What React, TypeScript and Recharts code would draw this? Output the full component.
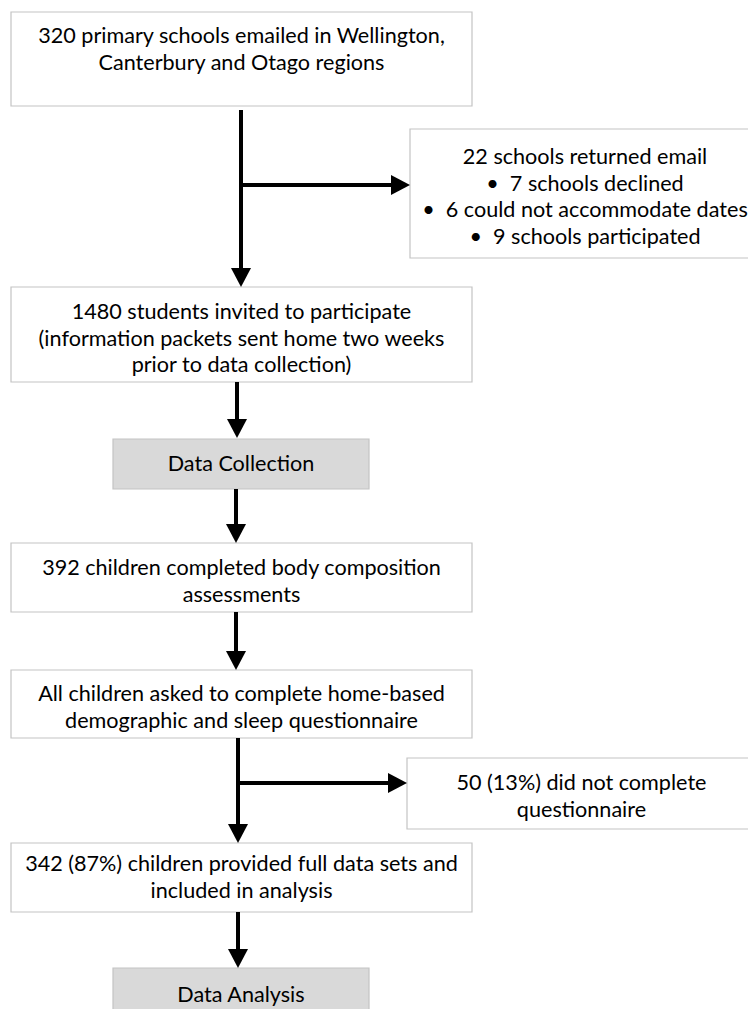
import { ScatterChart, Scatter, XAxis, YAxis, ReferenceArea, ReferenceLine } from 'recharts';

// text of every box, top to bottom
const boxLines: string[][] = [
  ['320 primary schools emailed in Wellington,', 'Canterbury and Otago regions'],
  ['22 schools returned email', '•  7 schools declined', '•  6 could not accommodate dates', '•  9 schools participated'],
  ['1480 students invited to participate', '(information packets sent home two weeks', 'prior to data collection)'],
  ['Data Collection'],
  ['392 children completed body composition', 'assessments'],
  ['All children asked to complete home-based', 'demographic and sleep questionnaire'],
  ['50 (13%) did not complete', 'questionnaire'],
  ['342 (87%) children provided full data sets and', 'included in analysis'],
  ['Data Analysis'],
];

// box geometry (page pixels), one per box above
const boxRects = [
  { x1: 11, x2: 472, y1: 12, y2: 106, base: 43 },
  { x1: 410, x2: 762, y1: 129, y2: 258, base: 164 },
  { x1: 11, x2: 472, y1: 287, y2: 382, base: 319 },
  { x1: 113, x2: 369, y1: 439, y2: 489, base: 471 },
  { x1: 11, x2: 472, y1: 543, y2: 612, base: 575 },
  { x1: 11, x2: 472, y1: 670, y2: 738, base: 701 },
  { x1: 407, x2: 756, y1: 758, y2: 829, base: 790 },
  { x1: 11, x2: 472, y1: 843, y2: 912, base: 871 },
  { x1: 113, x2: 369, y1: 968, y2: 1030, base: 1002 },
];
const shaded = [3, 8];

// arrows: start point and tip
const arrows = [
  { x1: 241, y1: 110, x2: 241, y2: 287, dir: 'down' },
  { x1: 241, y1: 185, x2: 410, y2: 185, dir: 'right' },
  { x1: 237, y1: 382, x2: 237, y2: 438, dir: 'down' },
  { x1: 236, y1: 489, x2: 236, y2: 543, dir: 'down' },
  { x1: 236, y1: 612, x2: 236, y2: 670, dir: 'down' },
  { x1: 238, y1: 738, x2: 238, y2: 843, dir: 'down' },
  { x1: 238, y1: 783, x2: 407, y2: 783, dir: 'right' },
  { x1: 238, y1: 912, x2: 238, y2: 968, dir: 'down' },
];

const W = 748;
const H = 1009;
const LINE = 26.7;
const FONT = 'Lato, "Open Sans", sans-serif';

const labels = boxRects.map((r, i) => ({ x: (r.x1 + Math.min(r.x2, 760)) / 2, y: r.base, lines: boxLines[i] }));
const tips = arrows.map((a) => ({ x: a.x2, y: a.y2, dir: a.dir }));

const ArrowHead = (props: any) => {
  const { cx, cy, payload } = props;
  const pts =
    payload.dir === 'down'
      ? `${cx - 10},${cy - 19} ${cx + 10},${cy - 19} ${cx},${cy}`
      : `${cx - 19},${cy - 10} ${cx - 19},${cy + 10} ${cx},${cy}`;
  return <polygon points={pts} fill="#000" />;
};

const BoxText = (props: any) => {
  const { cx, cy, payload } = props;
  return (
    <text x={cx} y={cy} textAnchor="middle" fontFamily={FONT} fontSize={21.6} fill="#000">
      {payload.lines.map((l: string, i: number) => (
        <tspan key={i} x={cx} y={cy + i * LINE} style={{ whiteSpace: 'pre' }}>
          {l}
        </tspan>
      ))}
    </text>
  );
};

export default function App() {
  return (
    <div style={{ position: 'absolute', left: 0, top: 0, width: W, height: H, background: '#fff' }}>
      <ScatterChart width={W} height={H} margin={{ top: 0, right: 0, bottom: 0, left: 0 }}>
        <XAxis type="number" dataKey="x" domain={[0, W]} hide allowDataOverflow />
        <YAxis type="number" dataKey="y" domain={[0, H]} reversed hide allowDataOverflow />
        {boxRects.map((r, i) => (
          <ReferenceArea
            key={`b${i}`}
            x1={r.x1}
            x2={r.x2}
            y1={r.y1}
            y2={r.y2}
            ifOverflow="visible"
            fill={shaded.includes(i) ? '#d9d9d9' : '#ffffff'}
            fillOpacity={1}
            stroke="#c4c4c4"
            strokeWidth={1.2}
          />
        ))}
        {arrows.map((a, i) => (
          <ReferenceLine
            key={`a${i}`}
            segment={[
              { x: a.x1, y: a.y1 },
              { x: a.dir === 'right' ? a.x2 - 16 : a.x2, y: a.dir === 'down' ? a.y2 - 16 : a.y2 },
            ]}
            stroke="#000"
            strokeWidth={4}
            ifOverflow="visible"
          />
        ))}
        <Scatter data={tips} shape={<ArrowHead />} isAnimationActive={false} />
        <Scatter data={labels} shape={<BoxText />} isAnimationActive={false} />
      </ScatterChart>
    </div>
  );
}
